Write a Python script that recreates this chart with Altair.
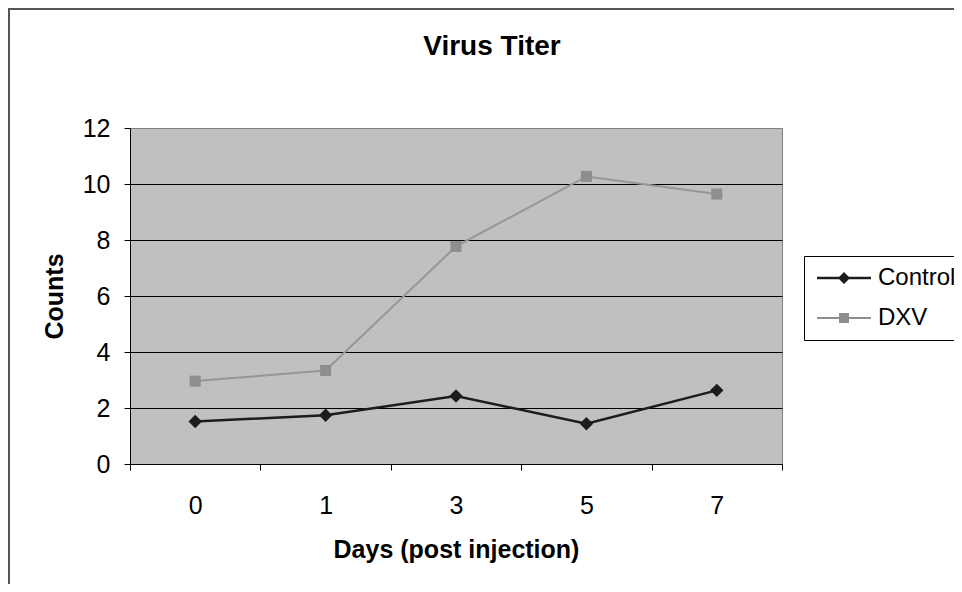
import altair as alt
import pandas as pd

days = ["0", "1", "3", "5", "7"]
control = [1.52, 1.74, 2.43, 1.44, 2.63]
dxv = [2.96, 3.34, 7.77, 10.27, 9.64]
series = ["Control", "DXV"]
line_colors = ["#1c1c1c", "#969696"]
marker_colors = ["#1c1c1c", "#8e8e8e"]
y_ticks = [0, 2, 4, 6, 8, 10, 12]

df = pd.DataFrame({
    "day": days * 2,
    "value": control + dxv,
    "series": [series[0]] * len(days) + [series[1]] * len(days),
})

FONT = "Liberation Sans"
W, H = 652, 336

# legend symbols: line segment + marker, drawn as filled clockwise sub-paths
# (unit = 10 px with symbolSize 400)
ctrl_path = "M-2.7,-0.13L2.7,-0.13L2.7,0.13L-2.7,0.13Z M0,-0.6L0.6,0L0,0.6L-0.6,0Z"
dxv_path = "M-2.7,-0.1L2.7,-0.1L2.7,0.1L-2.7,0.1Z M-0.5,-0.5L0.5,-0.5L0.5,0.5L-0.5,0.5Z"

legend = alt.Legend(
    title=None,
    orient="none",
    legendX=674,
    legendY=128,
    strokeColor="black",
    fillColor="white",
    padding=10,
    rowPadding=16,
    symbolOffset=18,
    labelOffset=22,
    labelFont=FONT,
    labelFontSize=24,
    labelColor="black",
    symbolSize=400,
    symbolStrokeWidth=0,
    symbolOpacity=1,
)

x_enc = alt.X(
    "day:O",
    sort=days,
    scale=alt.Scale(type="band", paddingInner=0, paddingOuter=0),
    axis=alt.Axis(
        title="Days (post injection)",
        tickBand="extent",
        labelAngle=0,
        labelFont=FONT,
        labelFontSize=25,
        labelColor="black",
        labelPadding=23,
        tickSize=6,
        tickColor="black",
        domainColor="black",
        grid=False,
        titleFont=FONT,
        titleFontSize=25,
        titleFontWeight="bold",
        titleColor="black",
        titleX=W / 2,
        titleY=85,
        titleBaseline="middle",
    ),
)
y_enc = alt.Y(
    "value:Q",
    scale=alt.Scale(domain=[0, 12], nice=False),
    axis=alt.Axis(
        title="Counts",
        values=y_ticks,
        labelFont=FONT,
        labelFontSize=25,
        labelColor="black",
        labelPadding=14,
        tickSize=6,
        tickColor="black",
        domainColor="black",
        grid=True,
        gridColor={"condition": {"test": "datum.value === 12", "value": "#808080"}, "value": "black"},
        gridWidth=1,
        titleFont=FONT,
        titleFontSize=25,
        titleFontWeight="bold",
        titleColor="black",
        titleX=-76,
        titleY=H / 2,
        titleAngle=-90,
        titleAlign="center",
        titleBaseline="middle",
    ),
)

base = alt.Chart(df).encode(x=x_enc, y=y_enc)

line_ctrl = base.mark_line(color=line_colors[0], strokeWidth=2.5).transform_filter(
    alt.datum.series == series[0]
)
line_dxv = base.mark_line(color=line_colors[1], strokeWidth=2).transform_filter(
    alt.datum.series == series[1]
)
pts_ctrl = base.mark_point(filled=True, opacity=1, shape="diamond", size=180, color=marker_colors[0]).transform_filter(
    alt.datum.series == series[0]
)
pts_dxv = base.mark_point(filled=True, opacity=1, shape="square", size=121, color=marker_colors[1]).transform_filter(
    alt.datum.series == series[1]
)
legend_layer = base.mark_point(filled=True, opacity=0).encode(
    color=alt.Color("series:N", scale=alt.Scale(domain=series, range=marker_colors), legend=legend),
    shape=alt.Shape("series:N", scale=alt.Scale(domain=series, range=[ctrl_path, dxv_path]), legend=legend),
)

frame_df = pd.DataFrame({"k": [0]})
frame_left = alt.Chart(frame_df).mark_rule(color="#555555", strokeWidth=2).encode(
    x=alt.value(-121), y=alt.value(-120), y2=alt.value(H + 130)
)
frame_top = alt.Chart(frame_df).mark_rule(color="#555555", strokeWidth=2).encode(
    x=alt.value(-121), x2=alt.value(W + 180), y=alt.value(-119)
)

chart = alt.layer(frame_left, frame_top, line_ctrl, line_dxv, pts_ctrl, pts_dxv, legend_layer).properties(
    width=W,
    height=H,
    title=alt.TitleParams(
        "Virus Titer",
        font=FONT,
        fontSize=28,
        fontWeight="bold",
        color="black",
        anchor="middle",
        frame="group",
        baseline="alphabetic",
        dx=36,
        offset=-76,
    ),
    padding={"left": 122, "top": 120, "right": 172, "bottom": 120},
    autosize=alt.AutoSizeParams(type="none"),
).configure(
    background="white",
).configure_view(
    fill="#c0c0c0",
    stroke="#808080",
    strokeWidth=1,
)

chart.save("out.html", embed_options={"renderer": "svg", "actions": False})
